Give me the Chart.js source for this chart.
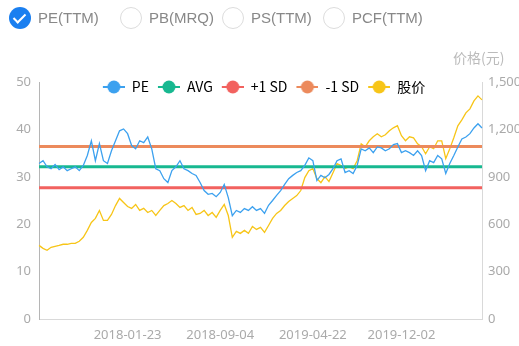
<!DOCTYPE html>
<html lang="zh">
<head>
    <meta charset="UTF-8">
    <meta name="viewport" content="width=device-width, initial-scale=1.0">
    <title>PE Band</title>
    <script src="https://cdn.jsdelivr.net/npm/chart.js"></script>
    <style>
        html, body {
            margin: 0;
            padding: 0;
            background: #fff;
        }
        #wrap {
            position: relative;
            width: 519px;
            height: 346px;
            overflow: hidden;
            font-family: Arial, "Liberation Sans", sans-serif;
        }
        #peChart {
            position: absolute;
            left: 0;
            top: 0;
        }
        .tab {
            position: absolute;
            top: 7px;
            height: 22px;
            line-height: 22px;
            font-size: 15px;
            color: #888;
            white-space: nowrap;
        }
        .tab .dot {
            position: absolute;
            left: 0;
            top: 0;
            width: 22px;
            height: 22px;
            box-sizing: border-box;
            border: 1px solid #dcdcdc;
            border-radius: 50%;
        }
        .tab.on .dot {
            border: none;
            background: #1a7ff0;
        }
        .tab.on .dot::after {
            content: "";
            position: absolute;
            left: 7px;
            top: 4px;
            width: 5px;
            height: 10px;
            border: solid #fff;
            border-width: 0 2px 2px 0;
            transform: rotate(45deg);
        }
        .tab span {
            position: absolute;
            left: 29px;
            top: 0;
        }
        #unit {
            position: absolute;
            left: 453px;
            top: 47px;
            font-size: 14px;
            color: #bbb;
            font-family: "Noto Sans CJK SC", sans-serif;
        }
    </style>
</head>
<body>
    <div id="wrap">
        <canvas id="peChart" width="519" height="346"></canvas>
        <div class="tab on" style="left:9px"><div class="dot"></div><span>PE(TTM)</span></div>
        <div class="tab" style="left:120px"><div class="dot"></div><span>PB(MRQ)</span></div>
        <div class="tab" style="left:222px"><div class="dot"></div><span>PS(TTM)</span></div>
        <div class="tab" style="left:323px"><div class="dot"></div><span>PCF(TTM)</span></div>
        <div id="unit">价格(元)</div>
    </div>

    <script>
        // values, one point every ~4px
        const peValues = [
            32.8, 33.4, 32.1, 31.7, 32.6, 31.5, 32.1, 31.3, 31.7, 32.1,
            31.3, 32.4, 34.5, 37.6, 33.4, 37.0, 33.4, 32.8, 35.5, 37.6,
            39.7, 40.1, 39.1, 36.6, 35.9, 37.6, 37.2, 38.4, 35.9, 31.7,
            31.3, 29.6, 28.8, 31.3, 32.1, 33.4, 31.7, 31.3, 30.7, 30.3,
            28.8, 27.1, 26.3, 26.5, 25.8, 26.7, 28.4, 25.6, 21.8, 22.9,
            22.5, 23.3, 22.9, 23.7, 22.9, 23.3, 22.3, 24.0, 25.0, 26.1,
            27.1, 28.4, 29.6, 30.3, 30.9, 31.3, 32.4, 34.0, 33.4, 29.2,
            30.3, 29.8, 30.5, 31.7, 33.4, 33.8, 30.9, 31.3, 30.7, 32.4,
            35.9, 35.5, 36.1, 35.1, 36.3, 36.1, 35.5, 35.9, 36.8, 37.0,
            35.1, 35.5, 35.1, 34.5, 35.5, 34.5, 31.3, 33.4, 33.0, 34.5,
            33.8, 30.7, 32.8, 34.5, 36.3, 38.0, 38.4, 39.1, 40.3, 41.2,
            40.3
        ];
        const priceValues = [
            466, 447, 435, 454, 460, 466, 473, 473, 479, 479,
            492, 517, 561, 611, 637, 687, 624, 624, 662, 718,
            763, 737, 712, 700, 725, 687, 700, 674, 687, 655,
            687, 718, 731, 750, 731, 706, 718, 687, 706, 662,
            668, 687, 655, 674, 643, 687, 725, 655, 517, 555,
            542, 561, 542, 586, 567, 580, 548, 592, 637, 668,
            687, 718, 744, 763, 781, 813, 895, 939, 952, 889,
            863, 901, 870, 926, 983, 971, 952, 964, 952, 1002,
            1109, 1090, 1128, 1153, 1172, 1153, 1166, 1191, 1210, 1223,
            1160, 1128, 1153, 1147, 1109, 1090, 1046, 1090, 1078, 1128,
            1128, 1015, 1078, 1147, 1223, 1260, 1305, 1330, 1380, 1412,
            1387
        ];
        const peAvg = 32.1;
        const peUpper = 27.7;   // labelled "+1 SD" in the picture
        const peLower = 36.4;   // labelled "-1 SD" in the picture
        const dateTicks = { 22: '2018-01-23', 45: '2018-09-04', 68: '2019-04-22', 90: '2019-12-02' };

        const labels = peValues.map((_, i) => i);
        const last = peValues.length - 1;

        function flatLine(v) {
            return [{ x: 0, y: v }, { x: last, y: v }];
        }

        // legend marker: short line with a dot on it
        function legendIcon(color) {
            const c = document.createElement('canvas');
            c.width = 31;
            c.height = 14;
            const g = c.getContext('2d');
            g.strokeStyle = color;
            g.lineWidth = 2;
            g.beginPath();
            g.moveTo(9, 7);
            g.lineTo(31, 7);
            g.stroke();
            g.fillStyle = color;
            g.beginPath();
            g.arc(20, 7, 6.5, 0, Math.PI * 2);
            g.fill();
            return c;
        }

        const legendFontSize = 14;

        // the legend sits inside the plot, just under its top edge
        const legendInside = {
            id: 'legendInside',
            afterLayout(chart) {
                const lg = chart.legend;
                const dy = 87 - legendFontSize / 2 - lg.top;
                lg.top += dy;
                lg.bottom += dy;
            }
        };

        const tickFont = { family: "'Noto Sans', Arial, sans-serif", size: 13 };

        new Chart(document.getElementById('peChart'), {
            type: 'line',
            data: {
                labels: labels,
                datasets: [
                    { label: 'PE', data: peValues, borderColor: '#3ca1ef', borderWidth: 1.3, yAxisID: 'y' },
                    { label: 'AVG', data: flatLine(peAvg), borderColor: '#17b890', borderWidth: 3, yAxisID: 'y' },
                    { label: '+1 SD', data: flatLine(peUpper), borderColor: '#f2625f', borderWidth: 3, yAxisID: 'y' },
                    { label: '-1 SD', data: flatLine(peLower), borderColor: '#ec8a5c', borderWidth: 3, yAxisID: 'y' },
                    { label: '股价', data: priceValues, borderColor: '#f7c518', borderWidth: 1.3, yAxisID: 'y1' }
                ]
            },
            plugins: [legendInside],
            options: {
                responsive: false,
                animation: false,
                elements: {
                    point: { radius: 0, hoverRadius: 0 },
                    line: { tension: 0, fill: false }
                },
                layout: { padding: { top: 58, left: 0, right: 0, bottom: 0 } },
                plugins: {
                    tooltip: { enabled: false },
                    legend: {
                        position: 'top',
                        align: 'center',
                        labels: {
                            usePointStyle: true,
                            pointStyleWidth: 31,
                            padding: 0,
                            color: '#333',
                            font: { family: "'Noto Sans CJK SC', 'Noto Sans', sans-serif", size: legendFontSize },
                            generateLabels: (chart) => chart.data.datasets.map((ds, i) => ({
                                text: ds.label,
                                pointStyle: legendIcon(ds.borderColor),
                                fillStyle: ds.borderColor,
                                strokeStyle: ds.borderColor,
                                lineWidth: 0,
                                datasetIndex: i,
                                hidden: false
                            }))
                        }
                    }
                },
                scales: {
                    x: {
                        type: 'category',
                        grid: { display: false, drawTicks: false },
                        border: { display: true, color: '#d9d9d9', width: 1 },
                        ticks: {
                            autoSkip: false,
                            maxRotation: 0,
                            padding: 8,
                            color: '#aaa',
                            font: tickFont,
                            callback: (v) => dateTicks[v] || null
                        },
                        afterFit: (s) => { s.height = 27; }
                    },
                    y: {
                        position: 'left',
                        min: 0,
                        max: 50,
                        grid: { display: false, drawTicks: false },
                        border: { display: true, color: '#b5b5b5', width: 1 },
                        ticks: { stepSize: 10, padding: 8, color: '#aaa', font: tickFont },
                        afterFit: (s) => { s.width = 39; }
                    },
                    y1: {
                        position: 'right',
                        min: 0,
                        max: 1500,
                        grid: { display: false, drawTicks: false },
                        border: { display: true, color: '#d9d9d9', width: 1 },
                        ticks: { stepSize: 300, padding: 6, color: '#aaa', font: tickFont },
                        afterFit: (s) => { s.width = 37; }
                    }
                }
            }
        });
    </script>
</body>
</html>
